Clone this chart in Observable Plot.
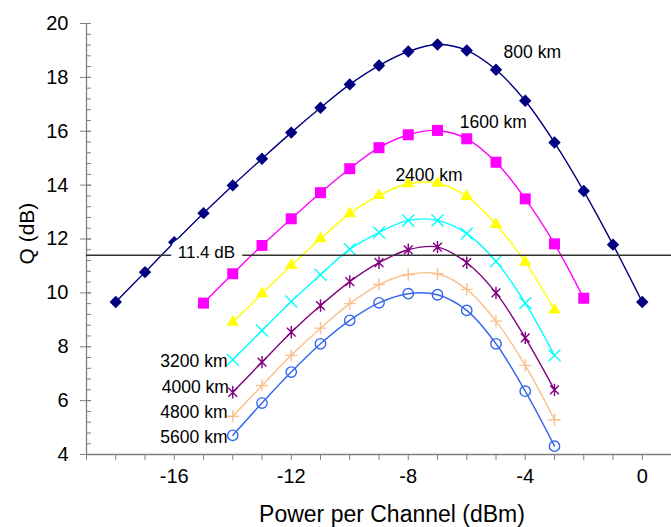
<!DOCTYPE html>
<html><head><meta charset="utf-8">
<script src="https://cdn.jsdelivr.net/npm/d3@7"></script>
<script src="https://cdn.jsdelivr.net/npm/@observablehq/plot@0.6"></script>
<style>body{margin:0;background:#fff} svg{display:block}</style>
</head><body><div id="chart"></div>
<script>
// ---- data ----
const x800  = [-18,-17,-16,-15,-14,-13,-12,-11,-10,-9,-8,-7,-6,-5,-4,-3,-2,-1,0];
const q800  = [9.66,10.77,11.88,12.96,13.99,14.98,15.95,16.87,17.74,18.44,18.96,19.22,19.0,18.28,17.13,15.58,13.78,11.79,9.66];
const x1600 = [-15,-14,-13,-12,-11,-10,-9,-8,-7,-6,-5,-4,-3,-2];
const q1600 = [9.62,10.71,11.76,12.75,13.72,14.61,15.39,15.87,16.03,15.72,14.85,13.49,11.82,9.80];
const xLong = [-14,-13,-12,-11,-10,-9,-8,-7,-6,-5,-4,-3];
const q2400 = [8.91,9.97,11.02,12.01,12.94,13.62,14.05,14.07,13.58,12.54,11.14,9.37];
const q3200 = [7.52,8.60,9.68,10.67,11.62,12.24,12.69,12.69,12.20,11.17,9.62,7.68];
const q4000 = [6.31,7.43,8.54,9.53,10.42,11.12,11.60,11.70,11.12,10.00,8.33,6.40];
const q4800 = [5.42,6.56,7.68,8.69,9.60,10.31,10.68,10.71,10.13,8.95,7.31,5.29];
const q5600 = [4.71,5.91,7.06,8.11,8.98,9.63,9.97,9.93,9.35,8.11,6.35,4.31];
const seriesNames = ["800 km","1600 km","2400 km","3200 km","4000 km","4800 km","5600 km"];
const threshold = 11.4;
const thresholdLabel = "11.4 dB";
const xTicksMajor = [-16,-12,-8,-4,0];
const xTicksMinor = [-19,-18,-17,-16,-15,-14,-13,-12,-11,-10,-9,-8,-7,-6,-5,-4,-3,-2,-1,0,1];
const yTicksMajor = [4,6,8,10,12,14,16,18,20];
const yTicksMinor = [4,4.4,4.8,5.2,5.6,6,6.4,6.8,7.2,7.6,8,8.4,8.8,9.2,9.6,10,10.4,10.8,11.2,11.6,12,12.4,12.8,13.2,13.6,14,14.4,14.8,15.2,15.6,16,16.4,16.8,17.2,17.6,18,18.4,18.8,19.2,19.6,20];
// label anchors in data units
const labelX = [-4.74,-6.24,-8.44,-14.18,-14.13,-14.18,-14.18];
const labelY = [18.92,16.34,14.36,7.46,6.50,5.57,4.64];

// ---- build table ----
const seriesX = [x800,x1600,xLong,xLong,xLong,xLong,xLong];
const seriesQ = [q800,q1600,q2400,q3200,q4000,q4800,q5600];
const rows = seriesNames.flatMap((name,i) => seriesX[i].map((x,j) => ({name, x, q: seriesQ[i][j]})));
const labels = seriesNames.map((name,i) => ({name, x: labelX[i], y: labelY[i], anchor: i < 3 ? "start" : "end"}));

// ---- styles ----
const asteriskX = {draw(ctx, size){
  const r = Math.sqrt(size/Math.PI), d = r*0.7071;
  ctx.moveTo(0,-r); ctx.lineTo(0,r);
  ctx.moveTo(-d,-d); ctx.lineTo(d,d);
  ctx.moveTo(-d,d); ctx.lineTo(d,-d);
}};
const styles = {
  "800 km":  {color:"#000080", symbol:"diamond2", r:5.6, filled:true},
  "1600 km": {color:"#FF00FF", symbol:"square",   r:6.2, filled:true},
  "2400 km": {color:"#FFFF00", symbol:"triangle", r:4.6, filled:true},
  "3200 km": {color:"#00FFFF", symbol:"times",    r:5.5, filled:false},
  "4000 km": {color:"#800080", symbol:asteriskX,  r:6.2, filled:false},
  "4800 km": {color:"#F9C08A", symbol:"plus",     r:4.0, filled:false},
  "5600 km": {color:"#3366EE", symbol:"circle",   r:5.2, filled:false}
};

const axisGray = "#808080";
const seriesMarks = seriesNames.flatMap(name => {
  const s = styles[name];
  const data = rows.filter(d => d.name === name);
  return [
    Plot.line(data, {x:"x", y:"q", stroke:s.color, strokeWidth:1.4, curve:"catmull-rom"}),
    Plot.dot(data, s.filled
      ? {x:"x", y:"q", symbol:()=>s.symbol, r:s.r, fill:s.color, stroke:"none"}
      : {x:"x", y:"q", symbol:()=>s.symbol, r:s.r, fill:"none", stroke:s.color, strokeWidth:1.4})
  ];
});

const chart = Plot.plot({
  width: 671, height: 527,
  marginLeft: 86, marginRight: 0, marginTop: 23, marginBottom: 73,
  x: {domain: [-19, 1], axis: null},
  y: {domain: [4, 20], axis: null},
  symbol: {type: "identity"},
  style: {fontFamily: "'Liberation Sans', Arial, sans-serif", color: "black", background: "white"},
  marks: [
    // axes
    Plot.axisX(xTicksMinor, {tickSize: 6, text: null, stroke: axisGray, label: null}),
    Plot.axisX(xTicksMajor, {tickSize: 0, tickPadding: 14, tickFormat: d => String(d), fontSize: 20, fill: "black", label: null}),
    Plot.axisY(yTicksMinor, {tickSize: 5, dx: 5, text: null, stroke: axisGray, label: null}),
    Plot.axisY(yTicksMajor, {tickSize: 11, dx: 5, text: null, stroke: axisGray, label: null}),
    Plot.axisY(yTicksMajor, {tickSize: 0, tickPadding: 18, tickFormat: d => String(d), fontSize: 20, fill: "black", label: null}),
    Plot.ruleX([-19], {stroke: axisGray, strokeWidth: 1.3}),
    Plot.ruleY([4], {stroke: axisGray, strokeWidth: 1.3}),
    Plot.text(["Q (dB)"], {frameAnchor: "left", y: () => 12.2, dx: -53, rotate: -90, lineAnchor: "bottom", textAnchor: "middle", fontSize: 21, fill: "black"}),
    Plot.text(["Power per Channel (dBm)"], {frameAnchor: "bottom", dx: 13, dy: 67, lineAnchor: "bottom", fontSize: 23, fill: "black"}),
    // series
    ...seriesMarks,
    // threshold
    Plot.ruleY([threshold], {stroke: "#333", strokeWidth: 1.5}),
    Plot.text([thresholdLabel], {x: () => -14.9, y: () => threshold, text: d => d, dy: -3, fontSize: 17, fill: "black", stroke: "white", strokeWidth: 16, paintOrder: "stroke", strokeLinejoin: "round"}),
    // series labels
    Plot.text(labels.filter(d => d.anchor === "start"), {x: "x", y: "y", text: "name", textAnchor: "start", fontSize: 17.5, fill: "black"}),
    Plot.text(labels.filter(d => d.anchor === "end"), {x: "x", y: "y", text: "name", textAnchor: "end", fontSize: 17.5, fill: "black"})
  ]
});
document.getElementById("chart").appendChild(chart);
</script>
</body></html>
